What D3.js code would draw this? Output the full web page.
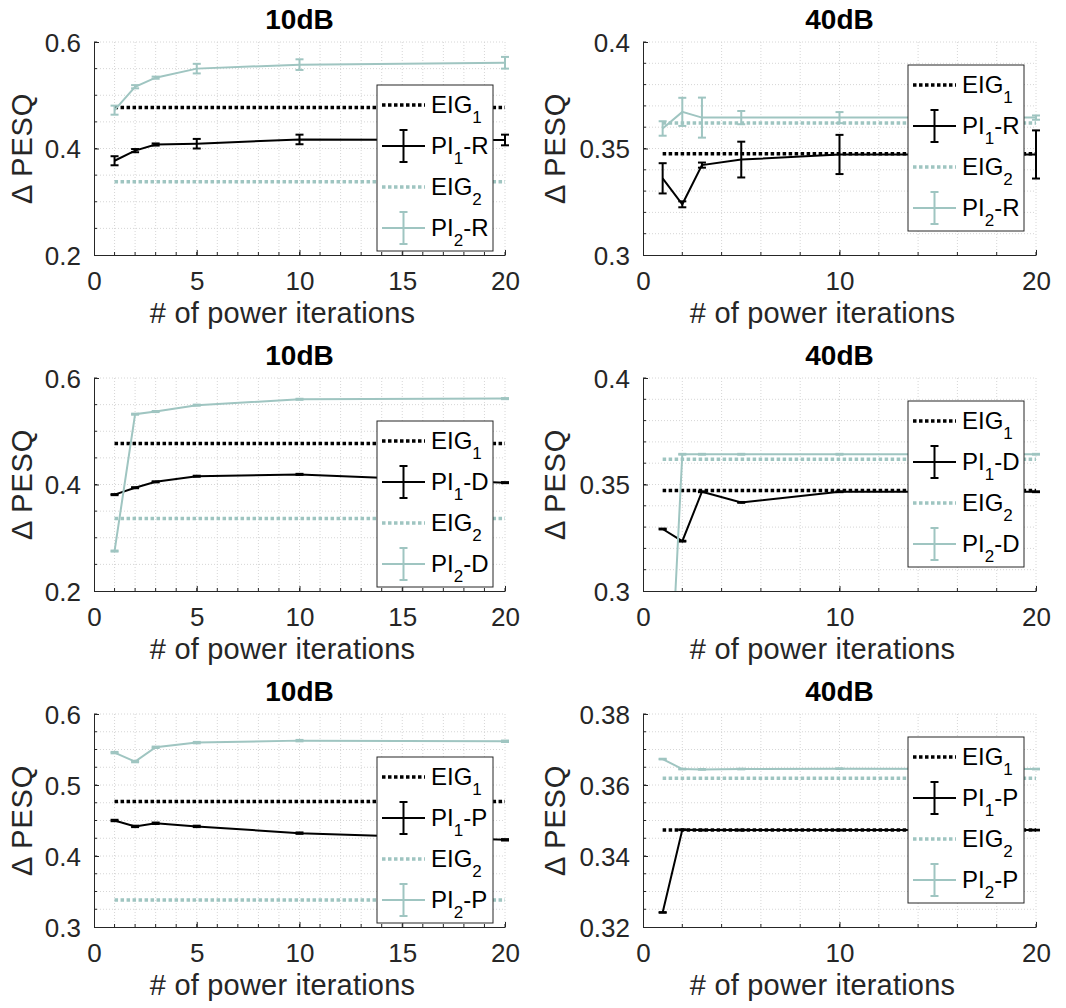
<!DOCTYPE html>
<html>
<head>
<meta charset="utf-8">
<script src="https://cdn.jsdelivr.net/npm/d3@7"></script>
<style>
  html, body { margin: 0; padding: 0; background: #fff; }
  svg { display: block; font-family: "Liberation Sans", Arial, Helvetica, sans-serif; }
</style>
</head>
<body>
<svg id="chart" width="1066" height="1008"></svg>
<script>
// Power-iteration count on the x axis, shared by every panel.
const iterations = [1, 2, 3, 5, 10, 20];

// One entry per panel, row by row (left: 10dB, right: 40dB).
const panelTitles = ["10dB", "40dB", "10dB", "40dB", "10dB", "40dB"];
const panelMethods = ["R", "R", "D", "D", "P", "P"];

// Eigen-decomposition reference levels (horizontal dotted lines).
const eig1Levels = [0.477, 0.3475, 0.477, 0.3472, 0.4767, 0.3473];
const eig2Levels = [0.3375, 0.362, 0.336, 0.3619, 0.338, 0.3619];

// Power-iteration results for the first eigenvector, with error-bar half-widths.
const pi1Values = [
  [0.377, 0.396, 0.4075, 0.409, 0.417, 0.416],
  [0.336, 0.3238, 0.3422, 0.3448, 0.3472, 0.3472],
  [0.381, 0.394, 0.405, 0.4155, 0.419, 0.4035],
  [0.3291, 0.3234, 0.3466, 0.3416, 0.3466, 0.3466],
  [0.450, 0.4417, 0.4461, 0.4417, 0.4322, 0.4228],
  [0.3241, 0.3474, 0.3473, 0.3473, 0.3473, 0.3473]
];
const pi1Errors = [
  [0.0085, 0.003, 0.002, 0.009, 0.009, 0.010],
  [0.0071, 0.0014, 0.0012, 0.0084, 0.0092, 0.0113],
  [0.001, 0.001, 0.001, 0.001, 0.001, 0.001],
  [0.0002, 0.0002, 0.0002, 0.0002, 0.0002, 0.0002],
  [0.001, 0.001, 0.001, 0.001, 0.001, 0.001],
  [0.0001, 0.0001, 0.0001, 0.0001, 0.0001, 0.0001]
];

// Power-iteration results for the second eigenvector, with error-bar half-widths.
const pi2Values = [
  [0.472, 0.516, 0.533, 0.550, 0.5575, 0.561],
  [0.3594, 0.3672, 0.3645, 0.3645, 0.3645, 0.3645],
  [0.275, 0.532, 0.537, 0.549, 0.560, 0.5613],
  [0.18, 0.3642, 0.3642, 0.3642, 0.3642, 0.3642],
  [0.5456, 0.533, 0.5531, 0.5597, 0.5625, 0.5616],
  [0.3673, 0.3645, 0.3644, 0.3645, 0.3646, 0.3645]
];
const pi2Errors = [
  [0.0085, 0.003, 0.002, 0.009, 0.010, 0.011],
  [0.0034, 0.0066, 0.0094, 0.0031, 0.0026, 0.001],
  [0.001, 0.001, 0.001, 0.001, 0.001, 0.001],
  [0.0002, 0.0002, 0.0002, 0.0002, 0.0002, 0.0002],
  [0.001, 0.001, 0.001, 0.001, 0.001, 0.001],
  [0.0001, 0.0001, 0.0001, 0.0001, 0.0001, 0.0001]
];

// Axis ranges and tick labels.
const yDomains = [[0.2, 0.6], [0.3, 0.4], [0.2, 0.6], [0.3, 0.4], [0.3, 0.6], [0.32, 0.38]];
const yTickValues = [
  [0.2, 0.4, 0.6], [0.3, 0.35, 0.4],
  [0.2, 0.4, 0.6], [0.3, 0.35, 0.4],
  [0.3, 0.4, 0.5, 0.6], [0.32, 0.34, 0.36, 0.38]
];
const yMinorSteps = [0.05, 0.01, 0.05, 0.01, 0.025, 0.005];
const xDomain = [0, 20];
const xTickValues = [[0, 5, 10, 15, 20], [0, 10, 20]];
const xMinorSteps = [1, 2];

// ---------- layout and style ----------
const colLeft = [94, 643];
const colRight = [505, 1036];
const rowTop = [42, 378, 714];
const plotH = 213;
const legendTop = [43, 23];      // offset from the axes top, by column
const legendW = 116, legendH = 166;
const yLabelX = [32, 565];
const xLabelShift = -17;

const BLACK = "#000000";
const TEAL = "#9fc5c1";
const AXIS = "#262626";
const GRID = "#d6d6d6";

const svg = d3.select("#chart");
const defs = svg.append("defs");

function range(a, b, step) {
  const out = [];
  const n = Math.round((b - a) / step);
  for (let i = 0; i <= n; i++) out.push(+(a + i * step).toFixed(6));
  return out;
}

panelTitles.forEach((title, p) => {
  const col = p % 2, row = Math.floor(p / 2);
  const left = colLeft[col], right = colRight[col];
  const top = rowTop[row], bottom = top + plotH;

  const x = d3.scaleLinear().domain(xDomain).range([left, right]);
  const y = d3.scaleLinear().domain(yDomains[p]).range([bottom, top]);

  const g = svg.append("g");

  // grid (dotted, at every minor step)
  const xs = range(xDomain[0], xDomain[1], xMinorSteps[col]).filter(v => v > xDomain[0]);
  const ys = range(yDomains[p][0], yDomains[p][1], yMinorSteps[p]).filter(v => v > yDomains[p][0]);
  g.append("g").selectAll("line").data(xs).join("line")
    .attr("x1", d => x(d)).attr("x2", d => x(d))
    .attr("y1", top).attr("y2", bottom)
    .attr("stroke", GRID).attr("stroke-width", 1).attr("stroke-dasharray", "1,2");
  g.append("g").selectAll("line").data(ys).join("line")
    .attr("x1", left).attr("x2", right)
    .attr("y1", d => y(d)).attr("y2", d => y(d))
    .attr("stroke", GRID).attr("stroke-width", 1).attr("stroke-dasharray", "1,2");

  // minor ticks (inward)
  g.append("g").selectAll("line").data(xs).join("line")
    .attr("x1", d => x(d)).attr("x2", d => x(d))
    .attr("y1", bottom).attr("y2", bottom - 3)
    .attr("stroke", AXIS).attr("stroke-width", 1);
  g.append("g").selectAll("line").data(ys).join("line")
    .attr("x1", left).attr("x2", left + 3)
    .attr("y1", d => y(d)).attr("y2", d => y(d))
    .attr("stroke", AXIS).attr("stroke-width", 1);

  // axes
  const xAxis = g.append("g").attr("transform", `translate(0,${bottom})`)
    .call(d3.axisBottom(x).tickValues(xTickValues[col]).tickFormat(d => String(d))
      .tickSizeInner(-5).tickSizeOuter(0));
  const yAxis = g.append("g").attr("transform", `translate(${left},0)`)
    .call(d3.axisLeft(y).tickValues(yTickValues[p]).tickFormat(d => String(d))
      .tickSizeInner(-5).tickSizeOuter(0));
  [xAxis, yAxis].forEach(a => {
    a.select(".domain").attr("stroke", AXIS).attr("stroke-width", 1);
    a.selectAll(".tick line").attr("stroke", AXIS);
    a.selectAll(".tick text").attr("fill", AXIS).attr("font-size", 26)
      .attr("font-family", "Liberation Sans, Arial, sans-serif");
  });
  xAxis.selectAll(".tick text").attr("y", 35).attr("dy", null);
  yAxis.selectAll(".tick text").attr("x", -13).attr("dy", "0.35em");

  // labels and title
  g.append("text").attr("x", (left + right) / 2).attr("y", top - 13)
    .attr("text-anchor", "middle").attr("font-size", 28).attr("font-weight", "bold")
    .attr("fill", BLACK).text(title);
  g.append("text").attr("x", (left + right) / 2 + xLabelShift).attr("y", bottom + 68)
    .attr("text-anchor", "middle").attr("font-size", 29).attr("letter-spacing", 0.2)
    .attr("fill", AXIS).text("# of power iterations");
  g.append("text")
    .attr("transform", `translate(${yLabelX[col]},${(top + bottom) / 2}) rotate(-90)`)
    .attr("text-anchor", "middle").attr("font-size", 29).attr("letter-spacing", 0.8)
    .attr("fill", AXIS).text("\u0394 PESQ");

  // clip vertically to the axes, allowing the end caps to overhang sideways
  const clipId = `clip${p}`;
  defs.append("clipPath").attr("id", clipId).append("rect")
    .attr("x", left - 10).attr("y", top).attr("width", right - left + 20).attr("height", plotH);
  const data = g.append("g").attr("clip-path", `url(#${clipId})`);

  // EIG reference lines
  [[eig1Levels[p], BLACK], [eig2Levels[p], TEAL]].forEach(([v, c]) => {
    data.append("line")
      .attr("x1", x(iterations[0])).attr("x2", x(iterations[iterations.length - 1]))
      .attr("y1", y(v)).attr("y2", y(v))
      .attr("stroke", c).attr("stroke-width", 3.5).attr("stroke-dasharray", "3.5,2.5");
  });

  // PI series with error bars
  const line = d3.line().x(d => x(d[0])).y(d => y(d[1]));
  [[pi1Values[p], pi1Errors[p], BLACK], [pi2Values[p], pi2Errors[p], TEAL]].forEach(([vals, errs, c]) => {
    const pts = iterations.map((it, i) => [it, vals[i], errs[i]]);
    data.append("path").datum(pts).attr("d", line)
      .attr("fill", "none").attr("stroke", c).attr("stroke-width", 2);
    const eb = data.append("g").attr("stroke", c).attr("stroke-width", 2);
    pts.forEach(([it, v, e]) => {
      const cx = x(it);
      eb.append("line").attr("x1", cx).attr("x2", cx).attr("y1", y(v - e)).attr("y2", y(v + e));
      eb.append("line").attr("x1", cx - 4).attr("x2", cx + 4).attr("y1", y(v - e)).attr("y2", y(v - e));
      eb.append("line").attr("x1", cx - 4).attr("x2", cx + 4).attr("y1", y(v + e)).attr("y2", y(v + e));
    });
  });

  // legend
  const lx = right - 12 - legendW, ly = top + legendTop[col];
  const lg = g.append("g").attr("transform", `translate(${lx},${ly})`);
  lg.append("rect").attr("width", legendW).attr("height", legendH)
    .attr("fill", "#fff").attr("stroke", AXIS).attr("stroke-width", 1);
  const entries = [
    { base: "EIG", sub: "1", tail: "", color: BLACK, dotted: true },
    { base: "PI", sub: "1", tail: "-" + panelMethods[p], color: BLACK, dotted: false },
    { base: "EIG", sub: "2", tail: "", color: TEAL, dotted: true },
    { base: "PI", sub: "2", tail: "-" + panelMethods[p], color: TEAL, dotted: false }
  ];
  entries.forEach((en, i) => {
    const cy = 20 + i * 41;
    if (en.dotted) {
      lg.append("line").attr("x1", 5).attr("x2", 48).attr("y1", cy).attr("y2", cy)
        .attr("stroke", en.color).attr("stroke-width", 3.5).attr("stroke-dasharray", "3.5,2.5");
    } else {
      const s = lg.append("g").attr("stroke", en.color).attr("stroke-width", 2);
      s.append("line").attr("x1", 5).attr("x2", 48).attr("y1", cy).attr("y2", cy);
      s.append("line").attr("x1", 26.5).attr("x2", 26.5).attr("y1", cy - 16).attr("y2", cy + 16);
      s.append("line").attr("x1", 22.5).attr("x2", 30.5).attr("y1", cy - 16).attr("y2", cy - 16);
      s.append("line").attr("x1", 22.5).attr("x2", 30.5).attr("y1", cy + 16).attr("y2", cy + 16);
    }
    const t = lg.append("text").attr("x", 54).attr("y", cy + 8)
      .attr("font-size", 24).attr("fill", BLACK);
    t.append("tspan").text(en.base);
    t.append("tspan").attr("font-size", 17).attr("dy", 10).text(en.sub);
    if (en.tail) t.append("tspan").attr("dy", -10).text(en.tail);
  });
});
</script>
</body>
</html>
